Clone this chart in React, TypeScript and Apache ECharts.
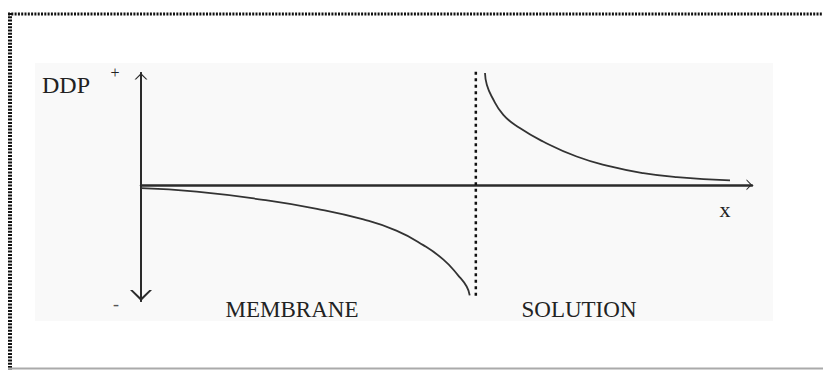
import React, { useEffect, useRef } from "react";
import * as echarts from "echarts";

// Membrane-side potential profile (x, DDP)
const membraneX = [0, 0.91, 2.0, 2.88, 3.64, 4.18, 4.62, 4.95, 5.19, 5.33, 5.38];
const membraneY = [-0.03, -0.062, -0.135, -0.215, -0.31, -0.41, -0.54, -0.67, -0.81, -0.91, -0.99];
// Solution-side potential profile
const solutionX = [5.63, 5.66, 5.74, 5.93, 6.2, 6.58, 7.13, 7.68, 8.22, 8.77, 9.64];
const solutionY = [1.0, 0.894, 0.79, 0.626, 0.507, 0.387, 0.253, 0.164, 0.104, 0.068, 0.039];
// Interface (dotted line)
const interfaceX = 5.48;
const interfaceY = [-0.993, 1.03];
// Axis ranges
const xRange = [0, 10];
const yRange = [-1.04, 1];
// Labels
const yLabel = "DDP";
const xLabel = "x";
const plusLabel = "+";
const minusLabel = "-";
const regionLabels = ["MEMBRANE", "SOLUTION"];

const CHEVRON = "path://M10,0M10,10L20,20L17.6,20L10,12.8L2.4,20L0,20Z";
const SERIF = "'Liberation Serif', 'DejaVu Serif', serif";

export default function App() {
  const ref = useRef<HTMLDivElement>(null);
  useEffect(() => {
    if (!ref.current) return;
    const chart = echarts.init(ref.current, undefined, { renderer: "svg" });
    const axisColor = "#2b2b2b";
    const txt = (text: string, x: number, y: number, size: number, align = "center", fill = "#222") => ({
      type: "text",
      x,
      y,
      silent: true,
      z: 10,
      style: {
        text,
        font: `${size}px ${SERIF}`,
        fill,
        textAlign: align,
        textVerticalAlign: "middle",
      },
    });
    chart.setOption({
      animation: false,
      backgroundColor: "#ffffff",
      grid: { left: 141, right: 71, top: 73, bottom: 69, containLabel: false },
      xAxis: {
        type: "value",
        min: xRange[0],
        max: xRange[1],
        axisLine: {
          onZero: true,
          symbol: ["none", CHEVRON],
          symbolSize: [11, 30],
          lineStyle: { color: axisColor, width: 2.5 },
        },
        axisTick: { show: false },
        axisLabel: { show: false },
        splitLine: { show: false },
      },
      yAxis: [
        {
          type: "value",
          position: "left",
          min: yRange[0],
          max: yRange[1],
          axisLine: {
            show: true,
            symbol: ["none", CHEVRON],
            symbolSize: [13, 22],
            lineStyle: { color: axisColor, width: 2 },
          },
          axisTick: { show: false },
          axisLabel: { show: false },
          splitLine: { show: false },
        },
        {
          type: "value",
          position: "left",
          min: yRange[0],
          max: yRange[1],
          axisLine: {
            show: true,
            symbol: [CHEVRON, "none"],
            symbolSize: [22, 40],
            lineStyle: { color: axisColor, width: 2 },
          },
          axisTick: { show: false },
          axisLabel: { show: false },
          splitLine: { show: false },
        },
      ],
      graphic: [
        { type: "rect", z: -10, silent: true, shape: { x: 35, y: 63, width: 738, height: 258 }, style: { fill: "#f9f9f9" } },
        { type: "line", z: -5, silent: true, shape: { x1: 8, y1: 14, x2: 823, y2: 14 }, style: { stroke: "#111", lineWidth: 3, lineDash: [2, 1.3] } },
        { type: "line", z: -5, silent: true, shape: { x1: 10, y1: 13, x2: 10, y2: 370 }, style: { stroke: "#111", lineWidth: 4, lineDash: [2, 1.3] } },
        { type: "line", z: -5, silent: true, shape: { x1: 8, y1: 368.5, x2: 823, y2: 368.5 }, style: { stroke: "#aaaaaa", lineWidth: 2 } },
        txt(yLabel, 42, 85, 24, "left"),
        txt(plusLabel, 115, 72, 16),
        txt(minusLabel, 116, 304, 18, "center", "#555"),
        txt(xLabel, 725, 209, 22),
        txt(regionLabels[0], 292, 309, 23),
        txt(regionLabels[1], 579, 309, 23),
      ],
      series: [
        {
          type: "line",
          data: membraneX.map((x, i) => [x, membraneY[i]]),
          smooth: 0.5,
          showSymbol: false,
          lineStyle: { color: "#333", width: 1.8 },
        },
        {
          type: "line",
          data: solutionX.map((x, i) => [x, solutionY[i]]),
          smooth: 0.5,
          showSymbol: false,
          lineStyle: { color: "#333", width: 1.8 },
        },
        {
          type: "line",
          data: interfaceY.map((y) => [interfaceX, y]),
          clip: false,
          showSymbol: false,
          lineStyle: { color: "#111", width: 2.5, type: [3, 3.5] },
        },
      ],
    });
    return () => chart.dispose();
  }, []);
  return <div ref={ref} style={{ position: "fixed", left: 0, top: 0, width: 823, height: 370 }} />;
}
